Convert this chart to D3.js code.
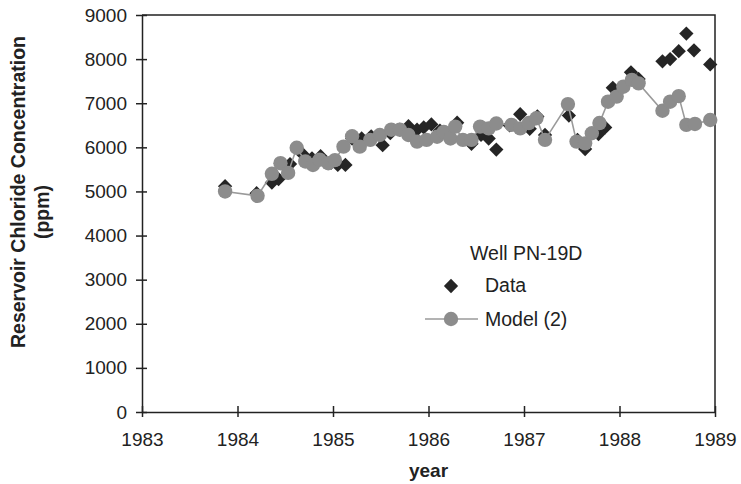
<!DOCTYPE html>
<html>
<head>
<meta charset="utf-8">
<script src="https://cdn.jsdelivr.net/npm/d3@7"></script>
<style>
  body { margin: 0; background: #fff; }
  text { font-family: "Liberation Sans", Arial, sans-serif; fill: #222; }
</style>
</head>
<body>
<div id="chart"></div>
<script>
// data
var dataYears = [1983.87, 1984.20, 1984.36, 1984.43, 1984.55, 1984.68, 1984.78, 1984.87, 1984.98, 1985.05,
    1985.13, 1985.20, 1985.30, 1985.40, 1985.52, 1985.60, 1985.70, 1985.79, 1985.88, 1985.95,
    1986.03, 1986.12, 1986.20, 1986.30, 1986.45, 1986.55, 1986.63, 1986.71, 1986.85, 1986.96,
    1987.06, 1987.14, 1987.22, 1987.47, 1987.56, 1987.64, 1987.78, 1987.85, 1987.93, 1988.12,
    1988.20, 1988.45, 1988.53, 1988.62, 1988.70, 1988.78, 1988.95];
var dataValues = [5120, 4960, 5200, 5280, 5620, 5850, 5750, 5800, 5650, 5600,
    5600, 6200, 6200, 6250, 6050, 6320, 6400, 6480, 6400, 6450,
    6520, 6380, 6300, 6560, 6080, 6280, 6200, 5950, 6500, 6750,
    6420, 6700, 6280, 6720, 6170, 5960, 6300, 6450, 7350, 7700,
    7550, 7950, 8000, 8180, 8580, 8200, 7880];

var modelYears = [1983.87, 1984.21, 1984.36, 1984.45, 1984.53, 1984.62, 1984.71, 1984.79, 1984.86, 1984.95,
    1985.02, 1985.11, 1985.20, 1985.28, 1985.39, 1985.49, 1985.61, 1985.70, 1985.79, 1985.88,
    1985.98, 1986.09, 1986.16, 1986.23, 1986.28, 1986.36, 1986.45, 1986.54, 1986.63, 1986.71,
    1986.87, 1986.96, 1987.05, 1987.13, 1987.22, 1987.46, 1987.55, 1987.64, 1987.71, 1987.79,
    1987.88, 1987.97, 1988.04, 1988.13, 1988.20, 1988.45, 1988.53, 1988.62, 1988.70, 1988.79,
    1988.95];
var modelValues = [5000, 4900, 5400, 5640, 5420, 5990, 5680, 5600, 5720, 5640,
    5710, 6015, 6250, 6015, 6170, 6280, 6400, 6400, 6280, 6130,
    6170, 6240, 6350, 6200, 6470, 6170, 6170, 6470, 6430, 6540,
    6510, 6430, 6550, 6660, 6170, 6980, 6130, 6090, 6320, 6550,
    7035, 7150, 7375, 7530, 7450, 6830, 7035, 7160, 6510, 6530,
    6620];

var xTicks = [1983, 1984, 1985, 1986, 1987, 1988, 1989];
var yTicks = [0, 1000, 2000, 3000, 4000, 5000, 6000, 7000, 8000, 9000];

// layout
var svgWidth = 741;
var svgHeight = 484;
var margin = { top: 15, right: 26, bottom: 72, left: 142 };
var chartWidth = svgWidth - margin.left - margin.right;
var chartHeight = svgHeight - margin.top - margin.bottom;

var svg = d3.select("#chart")
    .append("svg")
    .attr("width", svgWidth)
    .attr("height", svgHeight);

var chartGroup = svg.append("g")
    .attr("transform", `translate(${margin.left}, ${margin.top})`);

var xScale = d3.scaleLinear().domain([1983, 1989]).range([0, chartWidth]);
var yScale = d3.scaleLinear().domain([0, 9000]).range([chartHeight, 0]);

// frame (top and right edges)
chartGroup.append("path")
    .attr("d", `M0,0H${chartWidth}V${chartHeight}`)
    .attr("fill", "none")
    .attr("stroke", "#222")
    .attr("stroke-width", 1.5);

// axes
var xAxis = d3.axisBottom(xScale)
    .tickValues(xTicks)
    .tickFormat(d3.format("d"))
    .tickSizeInner(5)
    .tickSizeOuter(0)
    .tickPadding(16);

var yAxis = d3.axisLeft(yScale)
    .tickValues(yTicks)
    .tickFormat(d3.format("d"))
    .tickSizeInner(6)
    .tickSizeOuter(0)
    .tickPadding(9);

var xg = chartGroup.append("g")
    .attr("class", "x-axis")
    .attr("transform", `translate(0, ${chartHeight})`)
    .call(xAxis);

var yg = chartGroup.append("g")
    .attr("class", "y-axis")
    .call(yAxis);

[xg, yg].forEach(function (g) {
    g.select(".domain").attr("stroke", "#222").attr("stroke-width", 1.5);
    g.selectAll(".tick line").attr("stroke", "#222").attr("stroke-width", 1.5);
    g.selectAll(".tick text")
        .attr("font-size", "19px")
        .attr("font-family", "Liberation Sans, Arial, sans-serif")
        .attr("fill", "#222");
});

// ticks cross the axis
xg.selectAll(".tick line").attr("y1", -6).attr("y2", 5);
yg.selectAll(".tick line").attr("x1", 5).attr("x2", -6);

// data diamonds
var diamond = d3.symbol().type(d3.symbolDiamond2).size(130);

chartGroup.selectAll(".data-pt")
    .data(dataYears)
    .enter()
    .append("path")
    .attr("class", "data-pt")
    .attr("d", diamond)
    .attr("transform", (d, i) => `translate(${xScale(d)}, ${yScale(dataValues[i])})`)
    .attr("fill", "#252525");

// model line and circles
var line = d3.line()
    .x((d, i) => xScale(d))
    .y((d, i) => yScale(modelValues[i]));

chartGroup.append("path")
    .datum(modelYears)
    .attr("d", line)
    .attr("fill", "none")
    .attr("stroke", "#9a9a9a")
    .attr("stroke-width", 1.6);

chartGroup.selectAll(".model-pt")
    .data(modelYears)
    .enter()
    .append("circle")
    .attr("class", "model-pt")
    .attr("cx", d => xScale(d))
    .attr("cy", (d, i) => yScale(modelValues[i]))
    .attr("r", 7.2)
    .attr("fill", "#8c8c8c");

// legend
var legend = svg.append("g");

legend.append("text")
    .attr("x", 470)
    .attr("y", 260)
    .attr("font-size", "19.5px")
    .text("Well PN-19D");

legend.append("path")
    .attr("d", diamond)
    .attr("transform", "translate(451, 286)")
    .attr("fill", "#252525");

legend.append("text")
    .attr("x", 485)
    .attr("y", 292)
    .attr("font-size", "19.5px")
    .text("Data");

legend.append("line")
    .attr("x1", 425).attr("x2", 478)
    .attr("y1", 319).attr("y2", 319)
    .attr("stroke", "#9a9a9a")
    .attr("stroke-width", 1.6);

legend.append("circle")
    .attr("cx", 451)
    .attr("cy", 319)
    .attr("r", 7.2)
    .attr("fill", "#8c8c8c");

legend.append("text")
    .attr("x", 485)
    .attr("y", 326)
    .attr("font-size", "19.5px")
    .text("Model (2)");

// axis titles
svg.append("text")
    .attr("x", margin.left + chartWidth / 2)
    .attr("y", 477)
    .attr("text-anchor", "middle")
    .attr("font-size", "19px")
    .attr("font-weight", "bold")
    .text("year");

svg.append("text")
    .attr("transform", "translate(25, 192) rotate(-90)")
    .attr("text-anchor", "middle")
    .attr("font-size", "19.5px")
    .attr("font-weight", "bold")
    .text("Reservoir Chloride Concentration");

svg.append("text")
    .attr("transform", "translate(49, 212) rotate(-90)")
    .attr("text-anchor", "middle")
    .attr("font-size", "19.5px")
    .attr("font-weight", "bold")
    .text("(ppm)");
</script>
</body>
</html>
